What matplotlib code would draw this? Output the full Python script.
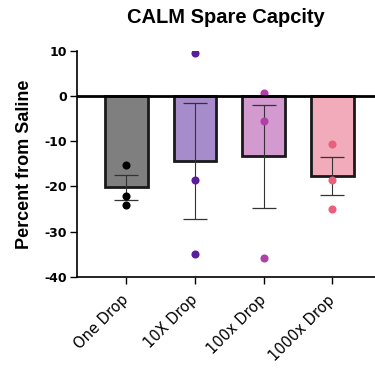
import matplotlib
matplotlib.use("Agg")
import matplotlib.pyplot as plt
import numpy as np

plt.rcParams['font.family'] = ['Liberation Sans', 'DejaVu Sans']
plt.rcParams['axes.unicode_minus'] = False

categories = ["One Drop", "10X Drop", "100x Drop", "1000x Drop"]
means = [-20.2, -14.4, -13.3, -17.6]
sem = [2.8, 12.9, 11.4, 4.2]
points = [
    [-15.2, -22.2, -24.2],
    [9.5, -18.5, -35.0],
    [0.75, -5.5, -35.8],
    [-10.6, -18.5, -25.0],
]
bar_colors = ["#7f7f7f", "#a68cca", "#d39ad0", "#f2abbb"]
point_colors = ["#000000", "#5a1e9c", "#b040a8", "#ea5f7c"]

fig = plt.figure(figsize=(3.75, 3.69), dpi=100)
ax = fig.add_axes([0.205, 0.25, 0.795, 0.612])

x = np.arange(len(categories))
ax.bar(x, means, width=0.62, color=bar_colors, edgecolor="#1a1a1a", linewidth=2, zorder=2)
ax.errorbar(x, means, yerr=sem, fmt="none", ecolor="#333333", elinewidth=0.8,
            capsize=8.5, capthick=0.9, zorder=3)
for i, pts in enumerate(points):
    ax.scatter([x[i]] * len(pts), pts, s=34, color=point_colors[i], zorder=4, linewidths=0)
ax.axhline(0, color="black", linewidth=2, zorder=5)

ax.set_xlim(-0.72, 3.62)
ax.set_ylim(-40, 10)
ax.set_yticks([10, 0, -10, -20, -30, -40])
ax.set_xticks(x)
ax.set_xticklabels(categories, rotation=45, ha="right", va="center",
                   rotation_mode="anchor", fontsize=10.5, family=['DejaVu Sans'])
for lbl in ax.get_yticklabels():
    lbl.set_fontweight("bold")
    lbl.set_fontsize(9)
    lbl.set_family(['DejaVu Sans'])
ax.spines['top'].set_visible(False)
ax.spines['right'].set_visible(False)
for s in ['left', 'bottom']:
    ax.spines[s].set_linewidth(1.2)
ax.tick_params(axis='y', width=1.0, length=5, direction='out', pad=2)
ax.tick_params(axis='x', width=1.0, length=5, direction='out', pad=10)
ax.set_ylabel("Percent from Saline", fontsize=13, fontweight="bold", labelpad=8)
ax.set_title("CALM Spare Capcity", fontsize=14.5, fontweight="bold", pad=20)

fig.savefig("out.png", dpi=100)
